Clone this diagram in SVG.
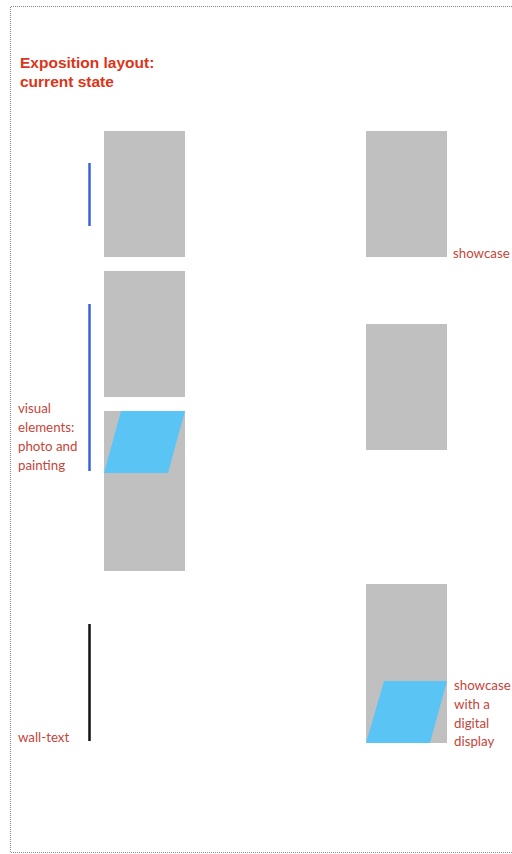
<svg xmlns="http://www.w3.org/2000/svg" width="512" height="854" viewBox="0 0 512 854">
<style>
.case{fill:#c0c0c0}
.screen{fill:#5ac4f5}
.lbl{font-family:Lato,"Noto Sans","Liberation Sans",sans-serif;font-size:13.3px;fill:#c4453a}
.title{font-family:"Liberation Sans",Arial,sans-serif;font-size:15.5px;font-weight:bold;fill:#dc3418}
.frame{fill:none;stroke:#8a8a8a;stroke-width:1;stroke-dasharray:1 1}
</style>
<rect x="0" y="0" width="512" height="854" fill="#ffffff"/>
<path class="frame" d="M512 6.5 H10.5 V852.5 H512"/>
<g id="title">
<text class="title" x="20" y="68">Exposition layout:</text>
<text class="title" x="20" y="87">current state</text>
</g>
<g id="connectors">
<line x1="89.5" y1="163" x2="89.5" y2="226" stroke="#3b63d6" stroke-width="2.5"/>
<line x1="89.5" y1="304" x2="89.5" y2="471" stroke="#3b63d6" stroke-width="2.5"/>
<line x1="89.5" y1="624" x2="89.5" y2="741" stroke="#111111" stroke-width="2.5"/>
</g>
<g id="left-case-1"><rect class="case" x="104" y="131" width="81" height="126"/></g>
<g id="left-case-2"><rect class="case" x="104" y="271" width="81" height="126"/></g>
<g id="left-case-3">
<rect class="case" x="104" y="411" width="81" height="160"/>
<polygon class="screen" points="121,411 185,411 168,473 104,473"/>
</g>
<g id="right-case-1"><rect class="case" x="366" y="131" width="81" height="126"/></g>
<g id="right-case-2"><rect class="case" x="366" y="324" width="81" height="126"/></g>
<g id="right-case-3">
<rect class="case" x="366" y="584" width="81" height="159"/>
<polygon class="screen" points="384,681 447,681 430,743 366,743"/>
</g>
<g id="label-showcase"><text class="lbl" x="453" y="258">showcase</text></g>
<g id="label-visual">
<text class="lbl" x="18" y="413">visual</text>
<text class="lbl" x="18" y="432">elements:</text>
<text class="lbl" x="18" y="451">photo and</text>
<text class="lbl" x="18" y="470">painting</text>
</g>
<g id="label-walltext"><text class="lbl" x="18" y="742">wall-text</text></g>
<g id="label-digital">
<text class="lbl" x="454" y="690">showcase</text>
<text class="lbl" x="454" y="709">with a</text>
<text class="lbl" x="454" y="728">digital</text>
<text class="lbl" x="454" y="746">display</text>
</g>
</svg>
